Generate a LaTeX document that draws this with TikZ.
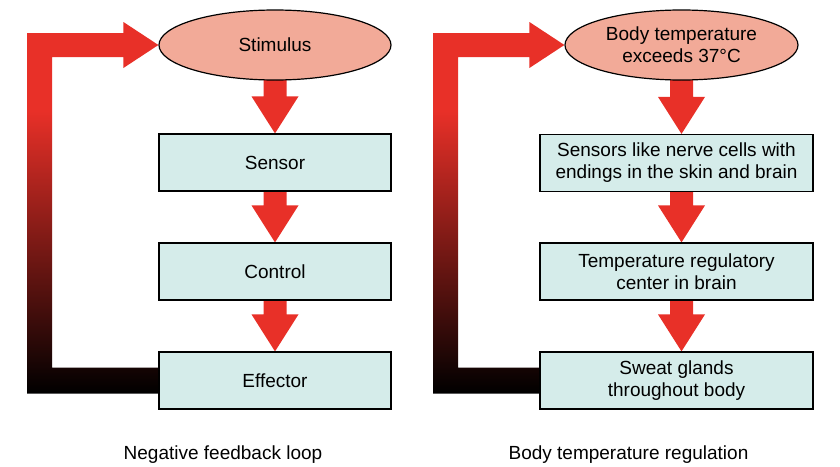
\documentclass[tikz,border=0pt]{standalone}
\usepackage{fontspec}
\setmainfont{Liberation Sans}
\usetikzlibrary{calc,shapes.geometric}
\definecolor{arrowred}{RGB}{232,48,40}
\definecolor{ellfill}{RGB}{242,170,152}
\definecolor{boxfill}{RGB}{213,236,234}
\pgfdeclarelayer{background}
\pgfsetlayers{background,main}
\pgfdeclareverticalshading{fbgrad}{100bp}{color(0bp)=(black); color(25bp)=(black); color(63bp)=(arrowred); color(100bp)=(arrowred)}
\newcommand{\blockdown}[3]{%
  \fill[arrowred] let \p0=(#1.south), \p1=(#2.south), \p2=(#3.north) in
    (\x0-11.5pt,\y1+3pt) -- (\x0-11.5pt,\y2+37pt) -- (\x0-23.5pt,\y2+37pt) -- (\x0,\y2)
    -- (\x0+23.5pt,\y2+37pt) -- (\x0+11.5pt,\y2+37pt) -- (\x0+11.5pt,\y1+3pt) -- cycle;}
\newcommand{\fbpath}[3]{%
  \shade[shading=fbgrad] let \p1=(#1.west), \p2=(#2.west) in
    (\x2+2pt,\y2-13pt) -- (#3pt,\y2-13pt) -- (#3pt,\y1+12pt) -- (\x1-35pt,\y1+12pt)
    -- (\x1-35pt,\y1+23pt) -- (\p1) -- (\x1-35pt,\y1-23pt) -- (\x1-35pt,\y1-12pt)
    -- (#3pt+25pt,\y1-12pt) -- (#3pt+25pt,\y2+13pt) -- (\x2+2pt,\y2+13pt) -- cycle;}
\tikzset{
  txt/.style={font=\fontsize{19}{22}\selectfont, align=center, text=black},
  stim/.style={txt, ellipse, draw=black, line width=1.2pt, fill=ellfill, inner sep=0pt, minimum height=70pt},
  stagebox/.style={txt, rectangle, draw=black, line width=1.2pt, fill=boxfill, inner sep=0pt, minimum height=57pt},
  caption/.style={txt, anchor=base}
}
\begin{document}
\begin{tikzpicture}[x=1pt,y=-1pt]
\useasboundingbox (0,0) rectangle (840,466);
% left diagram
\node[stim, minimum width=232pt] (st1) at (275,45) {Stimulus};
\node[stagebox, minimum width=232pt] (se1) at (275,162.5) {Sensor};
\node[stagebox, minimum width=232pt] (co1) at (275,271.5) {Control};
\node[stagebox, minimum width=232pt] (ef1) at (275,380.5) {Effector};
\node[caption] (cap1) at (223,459) {Negative feedback loop};
% right diagram
\node[stim, minimum width=233pt] (st2) at (681.5,45) {Body temperature\\exceeds 37°C};
\node[stagebox, minimum width=273pt] (se2) at (676.5,163) {Sensors like nerve cells with\\endings in the skin and brain};
\node[stagebox, minimum width=273pt] (co2) at (676.5,271.5) {Temperature regulatory\\center in brain};
\node[stagebox, minimum width=273pt] (ef2) at (676.5,380.5) {Sweat glands\\throughout body};
\node[caption] (cap2) at (628.5,459) {Body temperature regulation};
\begin{pgfonlayer}{background}
  \fill[white] (0,0) rectangle (840,466);
  \blockdown{st1}{st1}{se1}
  \blockdown{st1}{se1}{co1}
  \blockdown{st1}{co1}{ef1}
  \blockdown{st2}{st2}{se2}
  \blockdown{st2}{se2}{co2}
  \blockdown{st2}{co2}{ef2}
  \fbpath{st1}{ef1}{27}
  \fbpath{st2}{ef2}{433}
\end{pgfonlayer}
\end{tikzpicture}
\end{document}
